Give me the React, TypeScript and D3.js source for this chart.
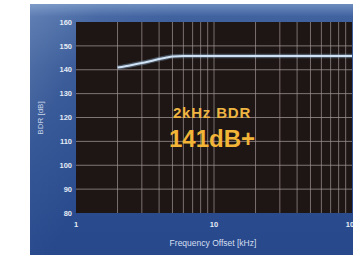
import React from 'react';
import * as d3 from 'd3';

const freqs = [2, 2.5, 3, 3.5, 4, 4.5, 5, 6, 7, 10, 20, 50, 100];
const bdr = [140.9, 141.9, 142.8, 143.7, 144.5, 145.1, 145.6, 145.8, 145.8, 145.8, 145.8, 145.8, 145.8];
const yTicks = [80, 90, 100, 110, 120, 130, 140, 150, 160];
const xTicks = [1, 10, 100];
const gridFreqs = [2, 3, 4, 5, 6, 7, 8, 9, 10, 20, 30, 40, 50, 60, 70, 80, 90];

const W = 353;
const H = 257;
const PANEL = { left: 30, top: 4, bottom: 255 };
const PLOT = { left: 76, right: 352, top: 22, bottom: 213 };

export default function App() {
  const x = d3.scaleLog().domain([1, 100]).range([PLOT.left, PLOT.right]);
  const y = d3.scaleLinear().domain([80, 160]).range([PLOT.bottom, PLOT.top]);
  const points: [number, number][] = freqs.map((f, i) => [f, bdr[i]]);
  const line = d3
    .line<[number, number]>()
    .x((d) => x(d[0]))
    .y((d) => y(d[1]))
    .curve(d3.curveMonotoneX);
  const path = line(points) || '';
  const font = 'Liberation Sans, Arial, sans-serif';

  return (
    <div style={{ position: 'fixed', left: 0, top: 0, width: W, height: H, background: '#fff' }}>
      <svg width={W} height={H} style={{ display: 'block' }}>
        <defs>
          <linearGradient id="panelV" x1="0" y1="0" x2="0" y2="1">
            <stop offset="0%" stopColor="#6d8dbf" />
            <stop offset="5%" stopColor="#40629f" />
            <stop offset="25%" stopColor="#335594" />
            <stop offset="100%" stopColor="#27498c" />
          </linearGradient>
          <linearGradient id="panelH" x1="0" y1="0" x2="1" y2="0.4">
            <stop offset="0%" stopColor="#9fb6da" stopOpacity={0.35} />
            <stop offset="20%" stopColor="#9fb6da" stopOpacity={0.08} />
            <stop offset="40%" stopColor="#9fb6da" stopOpacity={0} />
          </linearGradient>
          <clipPath id="plotClip">
            <rect x={PLOT.left} y={PLOT.top} width={PLOT.right - PLOT.left} height={PLOT.bottom - PLOT.top} />
          </clipPath>
        </defs>
        <rect x={PANEL.left} y={PANEL.top} width={W - PANEL.left} height={PANEL.bottom - PANEL.top} fill="url(#panelV)" />
        <rect x={PANEL.left} y={PANEL.top} width={W - PANEL.left} height={PANEL.bottom - PANEL.top} fill="url(#panelH)" />
        <rect
          x={PLOT.left}
          y={PLOT.top}
          width={PLOT.right - PLOT.left}
          height={PLOT.bottom - PLOT.top}
          fill="#1d1614"
        />
        <g clipPath="url(#plotClip)">
          {yTicks.slice(1, -1).map((t) => (
            <line key={'h' + t} x1={PLOT.left} x2={PLOT.right} y1={y(t)} y2={y(t)} stroke="#a09696" strokeOpacity={0.75} strokeWidth={1} />
          ))}
          {gridFreqs.map((f) => (
            <line key={'v' + f} x1={x(f)} x2={x(f)} y1={PLOT.top} y2={PLOT.bottom} stroke="#a09696" strokeOpacity={0.7} strokeWidth={1} />
          ))}
          <path d={path} fill="none" stroke="#9fc3ea" strokeOpacity={0.35} strokeWidth={4.5} />
          <path d={path} fill="none" stroke="#cfe2f5" strokeWidth={2} />
        </g>
        {yTicks.map((t) => (
          <text
            key={'yl' + t}
            x={PLOT.left - 4}
            y={y(t)}
            dy="0.35em"
            textAnchor="end"
            fontFamily={font}
            fontWeight="bold"
            fontSize={7.5}
            fill="#e4ebf5"
          >
            {t}
          </text>
        ))}
        {xTicks.map((t) => (
          <text
            key={'xl' + t}
            x={x(t)}
            y={PLOT.bottom + 14}
            textAnchor="middle"
            fontFamily={font}
            fontWeight="bold"
            fontSize={7.5}
            fill="#e4ebf5"
          >
            {t}
          </text>
        ))}
        <text
          x={213}
          y={246}
          textAnchor="middle"
          fontFamily={font}
          fontSize={8.5}
          fill="#d5dff0"
        >
          Frequency Offset [kHz]
        </text>
        <text
          transform="translate(43,118) rotate(-90)"
          textAnchor="middle"
          fontFamily={font}
          fontSize={8}
          fill="#c9d6ea"
        >
          BDR [dB]
        </text>
        <text
          x={212}
          y={118}
          textAnchor="middle"
          fontFamily={font}
          fontWeight="bold"
          fontSize={15}
          fill="#eeb543"
          letterSpacing={0.8}
        >
          2kHz BDR
        </text>
        <text
          x={212}
          y={147}
          textAnchor="middle"
          fontFamily={font}
          fontWeight="bold"
          fontSize={24}
          fill="#f2b537"
        >
          141dB+
        </text>
      </svg>
    </div>
  );
}
